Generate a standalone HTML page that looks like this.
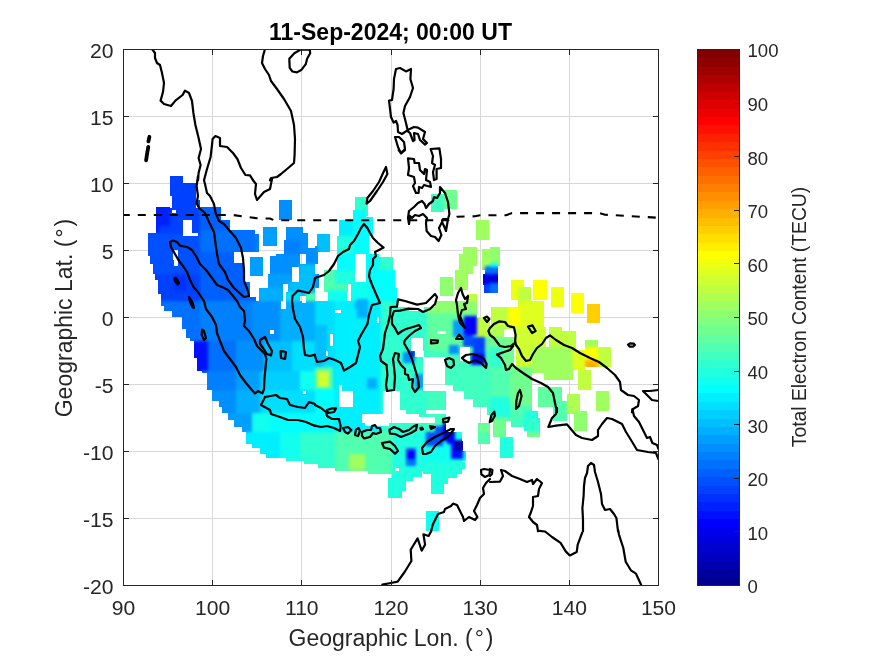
<!DOCTYPE html>
<html><head><meta charset="utf-8"><title>TEC map</title>
<style>html,body{margin:0;padding:0;background:#fff}body{width:875px;height:656px;overflow:hidden}</style></head>
<body>
<svg width="875" height="656" viewBox="0 0 875 656" style="display:block">
<rect width="875" height="656" fill="#fff"/>
<path d="M212.5 49.5V585.5M301.5 49.5V585.5M391.5 49.5V585.5M480.5 49.5V585.5M569.5 49.5V585.5M123.5 518.5H658.5M123.5 451.5H658.5M123.5 384.5H658.5M123.5 317.5H658.5M123.5 250.5H658.5M123.5 183.5H658.5M123.5 116.5H658.5" stroke="#d8d8d8" stroke-width="1" fill="none"/>
<defs>
<filter id="sm" x="123.5" y="49.5" width="535.0" height="536.0" filterUnits="userSpaceOnUse" color-interpolation-filters="sRGB"><feGaussianBlur in="SourceGraphic" stdDeviation="1.7" result="b"/><feComponentTransfer in="b" result="c"><feFuncA type="linear" slope="200" intercept="0"/></feComponentTransfer><feComposite in="c" in2="SourceAlpha" operator="in"/></filter>
<mask id="hm" maskUnits="userSpaceOnUse" x="0" y="0" width="875" height="656"><rect width="875" height="656" fill="#fff"/><g shape-rendering="crispEdges" fill="#000">
<rect x="172" y="210" width="4" height="3"/>
<rect x="183" y="220" width="9" height="16"/>
<rect x="192" y="233" width="6" height="3"/>
<rect x="173" y="250" width="5" height="10"/>
<rect x="174" y="260" width="4" height="6"/>
<rect x="300" y="254" width="6" height="10"/>
<rect x="292" y="267" width="7" height="9"/>
<rect x="283" y="284" width="5" height="8"/>
<rect x="281" y="301" width="5" height="8"/>
<rect x="302" y="301" width="4" height="2"/>
<rect x="270" y="330" width="4" height="4"/>
<rect x="303" y="391" width="3" height="3"/>
<rect x="398" y="301" width="37" height="6"/>
<rect x="409" y="307" width="15" height="4"/>
<rect x="411" y="338" width="12" height="13"/>
<rect x="415" y="351" width="9" height="6"/>
<rect x="423" y="357" width="22" height="28"/>
<rect x="423" y="385" width="30" height="6"/>
<rect x="446" y="391" width="18" height="41"/>
<rect x="464" y="399" width="9" height="33"/>
<rect x="473" y="407" width="5" height="25"/>
<rect x="478" y="407" width="9" height="16"/>
<rect x="487" y="415" width="3" height="8"/>
<rect x="383" y="391" width="17" height="23"/>
<rect x="400" y="410" width="6" height="4"/>
<rect x="362" y="417" width="73" height="6"/>
<rect x="362" y="414" width="57" height="3"/>
<rect x="426" y="410" width="20" height="4"/>
<rect x="365" y="423" width="24" height="3"/>
<rect x="339" y="385" width="3" height="6"/>
<rect x="339" y="391" width="14" height="16"/>
<rect x="477" y="301" width="14" height="17"/>
<rect x="335" y="310" width="6" height="3"/>
<rect x="330" y="334" width="3" height="12"/>
<rect x="377" y="317" width="2" height="6"/>
<rect x="326" y="351" width="2" height="5"/>
<rect x="437" y="331" width="9" height="3"/>
<rect x="460" y="347" width="10" height="14"/>
<rect x="504" y="329" width="11" height="8"/>
<rect x="395" y="468" width="4" height="3"/>
</g></mask>
<clipPath id="ax"><rect x="123.5" y="49.5" width="535.0" height="536.0"/></clipPath>
</defs>
<g mask="url(#hm)"><g filter="url(#sm)" shape-rendering="crispEdges">
<rect x="170" y="176" width="13" height="20" fill="#0040ff"/>
<rect x="172" y="183" width="24" height="25" fill="#0040ff"/>
<rect x="197" y="200" width="3" height="7" fill="#0050ff"/>
<rect x="156" y="207" width="14" height="27" fill="#0020ff"/>
<rect x="170" y="208" width="30" height="28" fill="#0040ff"/>
<rect x="159" y="226" width="24" height="16" fill="#0040ff"/>
<rect x="148" y="233" width="12" height="23" fill="#0050ff"/>
<rect x="160" y="234" width="40" height="24" fill="#0050ff"/>
<rect x="150" y="256" width="50" height="8" fill="#0050ff"/>
<rect x="153" y="264" width="47" height="10" fill="#0050ff"/>
<rect x="155" y="274" width="45" height="6" fill="#0040ff"/>
<rect x="158" y="280" width="42" height="14" fill="#0040ff"/>
<rect x="161" y="294" width="39" height="7" fill="#0040ff"/>
<rect x="174" y="274" width="12" height="16" fill="#0030ff"/>
<rect x="200" y="207" width="21" height="13" fill="#0060ff"/>
<rect x="200" y="220" width="30" height="10" fill="#0060ff"/>
<rect x="200" y="230" width="55" height="22" fill="#0070ff"/>
<rect x="255" y="234" width="4" height="18" fill="#0080ff"/>
<rect x="200" y="252" width="34" height="49" fill="#0060ff"/>
<rect x="234" y="263" width="10" height="38" fill="#0060ff"/>
<rect x="244" y="297" width="12" height="4" fill="#0060ff"/>
<rect x="244" y="282" width="6" height="16" fill="#0070ff"/>
<rect x="279" y="200" width="13" height="20" fill="#008fff"/>
<rect x="263" y="227" width="14" height="19" fill="#009fff"/>
<rect x="250" y="257" width="13" height="19" fill="#009fff"/>
<rect x="286" y="227" width="17" height="27" fill="#008fff"/>
<rect x="303" y="233" width="5" height="15" fill="#008fff"/>
<rect x="284" y="240" width="16" height="24" fill="#0080ff"/>
<rect x="276" y="254" width="24" height="20" fill="#008fff"/>
<rect x="270" y="256" width="6" height="28" fill="#008fff"/>
<rect x="268" y="274" width="24" height="16" fill="#009fff"/>
<rect x="259" y="288" width="24" height="13" fill="#00afff"/>
<rect x="300" y="248" width="15" height="16" fill="#008fff"/>
<rect x="306" y="250" width="9" height="16" fill="#008fff"/>
<rect x="299" y="264" width="16" height="18" fill="#00bfff"/>
<rect x="288" y="282" width="27" height="14" fill="#00bfff"/>
<rect x="286" y="292" width="14" height="9" fill="#00dfff"/>
<rect x="306" y="293" width="9" height="8" fill="#50ffaf"/>
<rect x="355" y="197" width="13" height="19" fill="#30ffcf"/>
<rect x="353" y="210" width="13" height="18" fill="#00ffff"/>
<rect x="339" y="220" width="14" height="18" fill="#00efff"/>
<rect x="353" y="217" width="20" height="19" fill="#00ffff"/>
<rect x="317" y="234" width="13" height="18" fill="#00bfff"/>
<rect x="337" y="236" width="16" height="18" fill="#20ffdf"/>
<rect x="353" y="236" width="16" height="18" fill="#00ffff"/>
<rect x="337" y="254" width="18" height="20" fill="#00ffff"/>
<rect x="366" y="254" width="13" height="20" fill="#00ffff"/>
<rect x="379" y="257" width="14" height="17" fill="#30ffcf"/>
<rect x="324" y="270" width="24" height="22" fill="#50ffaf"/>
<rect x="335" y="270" width="20" height="14" fill="#20ffdf"/>
<rect x="366" y="270" width="29" height="20" fill="#00ffff"/>
<rect x="351" y="282" width="18" height="19" fill="#10ffef"/>
<rect x="328" y="290" width="19" height="11" fill="#10ffef"/>
<rect x="369" y="288" width="28" height="13" fill="#00ffff"/>
<rect x="315" y="246" width="3" height="18" fill="#008fff"/>
<rect x="315" y="274" width="4" height="14" fill="#008fff"/>
<rect x="431" y="194" width="13" height="18" fill="#40ffbf"/>
<rect x="444" y="190" width="13" height="19" fill="#70ff8f"/>
<rect x="476" y="220" width="13" height="20" fill="#9fff60"/>
<rect x="463" y="247" width="14" height="19" fill="#9fff60"/>
<rect x="459" y="254" width="14" height="20" fill="#9fff60"/>
<rect x="455" y="270" width="13" height="20" fill="#9fff60"/>
<rect x="440" y="277" width="13" height="19" fill="#8fff70"/>
<rect x="482" y="249" width="8" height="21" fill="#9fff60"/>
<rect x="485" y="266" width="5" height="10" fill="#0070ff"/>
<rect x="483" y="274" width="7" height="11" fill="#0000df"/>
<rect x="484" y="284" width="6" height="9" fill="#0040ff"/>
<rect x="467" y="294" width="10" height="7" fill="#bfff40"/>
<rect x="490" y="247" width="10" height="19" fill="#8fff70"/>
<rect x="490" y="263" width="8" height="5" fill="#10ffef"/>
<rect x="490" y="267" width="8" height="9" fill="#0070ff"/>
<rect x="490" y="274" width="8" height="10" fill="#0000df"/>
<rect x="490" y="283" width="8" height="10" fill="#0070ff"/>
<rect x="511" y="280" width="13" height="20" fill="#efff10"/>
<rect x="518" y="287" width="13" height="14" fill="#bfff40"/>
<rect x="533" y="280" width="14" height="20" fill="#ffff00"/>
<rect x="551" y="287" width="13" height="14" fill="#efff10"/>
<rect x="571" y="293" width="13" height="8" fill="#ffff00"/>
<rect x="161" y="301" width="39" height="5" fill="#0070ff"/>
<rect x="200" y="301" width="52" height="5" fill="#0080ff"/>
<rect x="252" y="301" width="28" height="5" fill="#008fff"/>
<rect x="280" y="301" width="35" height="5" fill="#00afff"/>
<rect x="164" y="306" width="36" height="5" fill="#0070ff"/>
<rect x="200" y="306" width="52" height="5" fill="#0080ff"/>
<rect x="252" y="306" width="28" height="5" fill="#008fff"/>
<rect x="280" y="306" width="35" height="5" fill="#00afff"/>
<rect x="172" y="311" width="28" height="6" fill="#0070ff"/>
<rect x="200" y="311" width="52" height="6" fill="#0080ff"/>
<rect x="252" y="311" width="28" height="6" fill="#008fff"/>
<rect x="280" y="311" width="35" height="6" fill="#00afff"/>
<rect x="182" y="317" width="18" height="12" fill="#0070ff"/>
<rect x="200" y="317" width="52" height="12" fill="#0080ff"/>
<rect x="252" y="317" width="28" height="12" fill="#008fff"/>
<rect x="280" y="317" width="35" height="12" fill="#00afff"/>
<rect x="186" y="329" width="14" height="9" fill="#0070ff"/>
<rect x="200" y="329" width="52" height="9" fill="#0080ff"/>
<rect x="252" y="329" width="28" height="9" fill="#008fff"/>
<rect x="280" y="329" width="35" height="9" fill="#00afff"/>
<rect x="190" y="338" width="10" height="3" fill="#0070ff"/>
<rect x="200" y="338" width="52" height="3" fill="#0080ff"/>
<rect x="252" y="338" width="28" height="3" fill="#008fff"/>
<rect x="280" y="338" width="35" height="3" fill="#00afff"/>
<rect x="194" y="341" width="14" height="17" fill="#0010ff"/>
<rect x="208" y="341" width="28" height="17" fill="#0070ff"/>
<rect x="236" y="341" width="28" height="17" fill="#008fff"/>
<rect x="264" y="341" width="28" height="17" fill="#00bfff"/>
<rect x="292" y="341" width="23" height="17" fill="#00dfff"/>
<rect x="197" y="358" width="11" height="13" fill="#0010ff"/>
<rect x="208" y="358" width="28" height="13" fill="#0070ff"/>
<rect x="236" y="358" width="28" height="13" fill="#008fff"/>
<rect x="264" y="358" width="28" height="13" fill="#00bfff"/>
<rect x="292" y="358" width="23" height="13" fill="#00dfff"/>
<rect x="202" y="371" width="34" height="2" fill="#0080ff"/>
<rect x="236" y="371" width="24" height="2" fill="#009fff"/>
<rect x="260" y="371" width="40" height="2" fill="#00cfff"/>
<rect x="300" y="371" width="15" height="2" fill="#10ffef"/>
<rect x="207" y="373" width="29" height="17" fill="#0080ff"/>
<rect x="236" y="373" width="24" height="17" fill="#009fff"/>
<rect x="260" y="373" width="40" height="17" fill="#00cfff"/>
<rect x="300" y="373" width="15" height="17" fill="#10ffef"/>
<rect x="212" y="390" width="24" height="11" fill="#008fff"/>
<rect x="236" y="390" width="24" height="11" fill="#00afff"/>
<rect x="260" y="390" width="55" height="11" fill="#00dfff"/>
<rect x="219" y="401" width="17" height="6" fill="#008fff"/>
<rect x="236" y="401" width="24" height="6" fill="#00afff"/>
<rect x="260" y="401" width="55" height="6" fill="#00dfff"/>
<rect x="222" y="407" width="14" height="6" fill="#008fff"/>
<rect x="236" y="407" width="24" height="6" fill="#00afff"/>
<rect x="260" y="407" width="55" height="6" fill="#00dfff"/>
<rect x="228" y="413" width="24" height="7" fill="#009fff"/>
<rect x="252" y="413" width="18" height="7" fill="#10ffef"/>
<rect x="270" y="413" width="45" height="7" fill="#00ffff"/>
<rect x="234" y="420" width="18" height="7" fill="#009fff"/>
<rect x="252" y="420" width="18" height="7" fill="#10ffef"/>
<rect x="270" y="420" width="45" height="7" fill="#00ffff"/>
<rect x="242" y="427" width="10" height="5" fill="#009fff"/>
<rect x="252" y="427" width="18" height="5" fill="#10ffef"/>
<rect x="270" y="427" width="45" height="5" fill="#00ffff"/>
<rect x="315" y="301" width="20" height="131" fill="#00dfff"/>
<rect x="335" y="301" width="46" height="131" fill="#00efff"/>
<rect x="357" y="299" width="11" height="19" fill="#00afff"/>
<rect x="315" y="357" width="8" height="13" fill="#00bfff"/>
<rect x="381" y="301" width="46" height="131" fill="#30ffcf"/>
<rect x="427" y="301" width="63" height="50" fill="#60ff9f"/>
<rect x="427" y="351" width="63" height="81" fill="#40ffbf"/>
<rect x="315" y="325" width="12" height="36" fill="#00bfff"/>
<rect x="355" y="301" width="10" height="8" fill="#00afff"/>
<rect x="427" y="301" width="63" height="12" fill="#8fff70"/>
<rect x="315" y="367" width="18" height="24" fill="#50ffaf"/>
<rect x="317" y="371" width="12" height="16" fill="#cfff30"/>
<rect x="315" y="389" width="20" height="43" fill="#00ffff"/>
<rect x="367" y="378" width="10" height="11" fill="#00afff"/>
<rect x="403" y="352" width="12" height="11" fill="#008fff"/>
<rect x="410" y="350" width="5" height="7" fill="#0010ff"/>
<rect x="415" y="374" width="9" height="15" fill="#009fff"/>
<rect x="477" y="313" width="13" height="24" fill="#bfff40"/>
<rect x="453" y="320" width="14" height="17" fill="#009fff"/>
<rect x="464" y="316" width="13" height="19" fill="#0000ff"/>
<rect x="463" y="335" width="10" height="12" fill="#0050ff"/>
<rect x="473" y="337" width="12" height="20" fill="#0040ff"/>
<rect x="449" y="345" width="10" height="9" fill="#008fff"/>
<rect x="471" y="354" width="14" height="11" fill="#0000ff"/>
<rect x="443" y="423" width="12" height="9" fill="#0000bf"/>
<rect x="435" y="426" width="8" height="6" fill="#0050ff"/>
<rect x="478" y="424" width="12" height="8" fill="#70ff8f"/>
<rect x="518" y="301" width="26" height="26" fill="#dfff20"/>
<rect x="491" y="307" width="29" height="20" fill="#bfff40"/>
<rect x="508" y="307" width="12" height="20" fill="#ffff00"/>
<rect x="551" y="301" width="13" height="6" fill="#efff10"/>
<rect x="571" y="301" width="13" height="12" fill="#ffff00"/>
<rect x="587" y="304" width="13" height="19" fill="#ffcf00"/>
<rect x="490" y="327" width="26" height="20" fill="#afff50"/>
<rect x="516" y="327" width="30" height="40" fill="#cfff30"/>
<rect x="549" y="327" width="13" height="20" fill="#bfff40"/>
<rect x="562" y="331" width="14" height="20" fill="#bfff40"/>
<rect x="585" y="340" width="13" height="9" fill="#9fff60"/>
<rect x="585" y="347" width="13" height="14" fill="#ffff00"/>
<rect x="585" y="360" width="13" height="7" fill="#ffaf00"/>
<rect x="598" y="347" width="13" height="20" fill="#bfff40"/>
<rect x="571" y="350" width="14" height="20" fill="#dfff20"/>
<rect x="532" y="347" width="40" height="26" fill="#9fff60"/>
<rect x="544" y="361" width="29" height="19" fill="#9fff60"/>
<rect x="578" y="370" width="13" height="20" fill="#bfff40"/>
<rect x="490" y="337" width="24" height="30" fill="#70ff8f"/>
<rect x="490" y="347" width="12" height="34" fill="#30ffcf"/>
<rect x="490" y="367" width="42" height="54" fill="#50ffaf"/>
<rect x="490" y="397" width="20" height="20" fill="#20ffdf"/>
<rect x="510" y="367" width="22" height="38" fill="#70ff8f"/>
<rect x="538" y="387" width="24" height="20" fill="#60ff9f"/>
<rect x="553" y="401" width="14" height="20" fill="#50ffaf"/>
<rect x="567" y="394" width="13" height="20" fill="#afff50"/>
<rect x="596" y="391" width="13" height="20" fill="#9fff60"/>
<rect x="574" y="411" width="13" height="20" fill="#8fff70"/>
<rect x="524" y="411" width="14" height="20" fill="#20ffdf"/>
<rect x="527" y="418" width="13" height="14" fill="#30ffcf"/>
<rect x="511" y="417" width="13" height="10" fill="#40ffbf"/>
<rect x="493" y="418" width="13" height="14" fill="#70ff8f"/>
<rect x="246" y="432" width="34" height="12" fill="#00efff"/>
<rect x="280" y="432" width="20" height="12" fill="#10ffef"/>
<rect x="300" y="432" width="15" height="12" fill="#30ffcf"/>
<rect x="252" y="444" width="28" height="4" fill="#00efff"/>
<rect x="280" y="444" width="20" height="4" fill="#10ffef"/>
<rect x="300" y="444" width="15" height="4" fill="#30ffcf"/>
<rect x="260" y="448" width="20" height="6" fill="#00efff"/>
<rect x="280" y="448" width="20" height="6" fill="#10ffef"/>
<rect x="300" y="448" width="15" height="6" fill="#30ffcf"/>
<rect x="266" y="454" width="14" height="4" fill="#00efff"/>
<rect x="280" y="454" width="20" height="4" fill="#10ffef"/>
<rect x="300" y="454" width="15" height="4" fill="#30ffcf"/>
<rect x="286" y="458" width="29" height="3" fill="#20ffdf"/>
<rect x="304" y="461" width="11" height="3" fill="#30ffcf"/>
<rect x="315" y="432" width="3" height="32" fill="#30ffcf"/>
<rect x="318" y="432" width="17" height="36" fill="#30ffcf"/>
<rect x="335" y="432" width="33" height="39" fill="#50ffaf"/>
<rect x="368" y="432" width="24" height="42" fill="#50ffaf"/>
<rect x="392" y="432" width="31" height="39" fill="#20ffdf"/>
<rect x="423" y="432" width="39" height="30" fill="#10ffef"/>
<rect x="462" y="451" width="4" height="10" fill="#10ffef"/>
<rect x="349" y="454" width="16" height="16" fill="#9fff60"/>
<rect x="388" y="478" width="14" height="20" fill="#20ffdf"/>
<rect x="392" y="471" width="21" height="10" fill="#20ffdf"/>
<rect x="402" y="481" width="4" height="10" fill="#20ffdf"/>
<rect x="413" y="471" width="9" height="6" fill="#20ffdf"/>
<rect x="423" y="462" width="42" height="7" fill="#20ffdf"/>
<rect x="423" y="469" width="39" height="5" fill="#20ffdf"/>
<rect x="431" y="474" width="26" height="4" fill="#20ffdf"/>
<rect x="431" y="478" width="17" height="6" fill="#20ffdf"/>
<rect x="431" y="484" width="13" height="10" fill="#20ffdf"/>
<rect x="406" y="448" width="10" height="18" fill="#0070ff"/>
<rect x="407" y="450" width="8" height="9" fill="#0000ff"/>
<rect x="426" y="432" width="17" height="14" fill="#0050ff"/>
<rect x="443" y="432" width="12" height="9" fill="#0000df"/>
<rect x="447" y="436" width="8" height="8" fill="#0000ff"/>
<rect x="451" y="441" width="12" height="18" fill="#0010ff"/>
<rect x="455" y="440" width="7" height="11" fill="#00009f"/>
<rect x="426" y="511" width="13" height="20" fill="#10ffef"/>
<rect x="478" y="432" width="12" height="12" fill="#50ffaf"/>
<rect x="493" y="432" width="13" height="5" fill="#70ff8f"/>
<rect x="500" y="437" width="13" height="21" fill="#20ffdf"/>
<rect x="527" y="432" width="13" height="5" fill="#70ff8f"/>
</g></g>
<g clip-path="url(#ax)">
<path d="M152.0 49.0L155.0 53.0L155.0 58.0L157.0 63.0L160.0 65.0L162.0 73.0L164.0 83.0L163.0 92.0L160.6 100.6L164.0 104.0L171.0 106.0L175.4 100.6L182.6 95.0L185.0 90.6L189.0 93.0L192.0 101.0L193.4 113.0L195.4 125.0L198.6 138.0L201.0 149.0L198.6 158.0L200.6 165.0L198.6 173.0L198.0 180.2" fill="none" stroke="#000" stroke-width="2.2" stroke-linejoin="round" stroke-linecap="round"/>
<path d="M204.0 180.2L207.0 169.0L210.6 157.0L212.0 145.0L212.6 139.0L215.4 136.0L220.0 138.0L220.0 146.0L227.0 147.0L233.0 153.0L237.4 159.0L241.0 168.0L245.4 175.0L250.0 175.4L253.0 180.2" fill="none" stroke="#000" stroke-width="2.2" stroke-linejoin="round" stroke-linecap="round"/>
<path d="M265.0 49.0L263.0 56.0L262.0 63.0L265.0 69.0L269.0 75.0L271.0 81.0L277.0 89.0L284.0 99.0L291.0 111.0L294.0 125.0L295.0 139.0L294.6 155.0L294.0 163.0L287.0 169.0L281.0 174.0L277.0 177.0L271.0 178.0L270.0 180.2" fill="none" stroke="#000" stroke-width="2.2" stroke-linejoin="round" stroke-linecap="round"/>
<path d="M300.7 49.6L309.8 49.6L310.2 53.2L307.1 58.7L305.8 64.2L301.6 69.7L297 72.4L292.4 71.5L289.7 67.9L289.3 58.7L294.3 53.2Z" fill="none" stroke="#000" stroke-width="2.2" stroke-linejoin="round" stroke-linecap="round"/>
<path d="M396.0 69.0L400.0 68.0L406.0 71.4L411.0 69.0L410.4 79.0L413.0 88.0L410.0 97.0L405.0 106.0L403.4 113.0L406.0 123.0L407.6 130.0L414.0 127.0L418.0 127.6L425.0 132.0L423.0 139.0L427.0 143.0L425.0 144.6L420.0 140.0L418.0 134.0L414.0 133.0L414.6 140.0L413.0 141.0L410.0 133.0L407.0 130.6L402.0 134.0L398.0 132.0L397.6 125.0L396.0 121.0L393.6 122.6L391.0 117.0L389.0 100.6L392.0 100.0L393.6 89.0L394.0 79.0Z" fill="none" stroke="#000" stroke-width="2.2" stroke-linejoin="round" stroke-linecap="round"/>
<path d="M395.0 137.0L399.0 137.0L404.0 142.0L405.0 149.0L401.0 153.4L398.0 147.0Z" fill="none" stroke="#000" stroke-width="2.2" stroke-linejoin="round" stroke-linecap="round"/>
<path d="M198.0 180.2L198.0 176.0L196.6 186.0L198.0 196.0L196.6 203.0L199.0 208.0L205.0 213.0L209.0 222.0L214.0 232.0L215.6 244.0L217.0 254.0L219.0 264.0L225.0 272.0L228.0 280.0L234.0 288.0L244.0 297.0L249.0 296.0L247.6 290.0L244.0 281.0L244.0 270.0L243.0 258.0L241.0 248.0L236.0 238.0L229.0 230.0L224.0 224.0L219.0 221.0L215.6 213.0L214.0 204.0L210.0 196.0L207.0 193.0L205.0 184.0L204.0 180.2" fill="none" stroke="#000" stroke-width="2.2" stroke-linejoin="round" stroke-linecap="round"/>
<path d="M253.0 180.2L256.0 184.0L255.0 194.0L257.0 200.0L264.0 192.0L270.0 189.0L272.0 179.0L270.0 180.2" fill="none" stroke="#000" stroke-width="2.2" stroke-linejoin="round" stroke-linecap="round"/>
<path d="M170.0 242.0L173.0 240.4L177.0 242.0L180.0 245.6L187.0 247.0L192.0 250.0L196.0 256.0L200.0 264.0L206.0 270.0L212.0 278.0L217.0 285.0L222.0 287.0L228.0 290.0L233.0 296.0L237.0 301.2" fill="none" stroke="#000" stroke-width="2.2" stroke-linejoin="round" stroke-linecap="round"/>
<path d="M170.0 242.0L171.0 247.0L175.0 254.0L179.0 261.0L183.0 266.0L187.0 272.0L190.0 280.0L193.6 287.0L198.0 292.0L202.0 298.0L204.0 301.2" fill="none" stroke="#000" stroke-width="2.2" stroke-linejoin="round" stroke-linecap="round"/>
<path d="M174.4 278.4L176.0 278.0L179.0 283.0L177.6 284.4L175.0 281.0Z" fill="none" stroke="#000" stroke-width="2.2" stroke-linejoin="round" stroke-linecap="round"/>
<path d="M204.0 301.0L206.0 309.0L212.0 317.0L216.0 325.0L217.0 333.0L220.0 341.0L224.0 351.0L230.0 359.0L236.0 367.0L240.0 375.0L246.0 383.0L251.0 389.0L255.0 393.4L258.0 391.0L262.4 393.4L264.0 389.0L264.4 379.0L265.6 367.0L266.4 359.0L265.0 354.0L260.0 349.0L257.0 346.0L254.0 339.0L249.0 331.0L244.0 326.0L245.0 320.0L244.0 311.0L240.0 307.0L237.0 301.0" fill="none" stroke="#000" stroke-width="2.2" stroke-linejoin="round" stroke-linecap="round"/>
<path d="M260.0 340.0L265.0 337.0L268.0 344.0L272.0 351.0L271.0 355.4L267.0 354.0L263.0 348.0L260.0 344.0Z" fill="none" stroke="#000" stroke-width="2.2" stroke-linejoin="round" stroke-linecap="round"/>
<path d="M280.6 351.0L286.0 352.0L285.0 359.0L281.0 358.0Z" fill="none" stroke="#000" stroke-width="2.2" stroke-linejoin="round" stroke-linecap="round"/>
<path d="M202.0 329.6L204.0 331.0L206.0 338.0L204.0 340.0L201.6 335.0Z" fill="none" stroke="#000" stroke-width="2.2" stroke-linejoin="round" stroke-linecap="round"/>
<path d="M189.0 297.0L192.4 302.0L194.0 308.0L192.4 307.0L190.0 302.0Z" fill="none" stroke="#000" stroke-width="2.2" stroke-linejoin="round" stroke-linecap="round"/>
<path d="M292.0 301.0L293.0 309.0L295.0 319.0L300.0 327.0L303.0 337.0L304.0 349.0L305.0 355.0L310.0 356.0L315.0 354.6" fill="none" stroke="#000" stroke-width="2.2" stroke-linejoin="round" stroke-linecap="round"/>
<path d="M265.0 397.0L261.0 405.0L270.0 410.0L271.0 414.0L280.0 417.0L288.0 420.0L298.0 420.0L306.0 422.0L315.0 426.0" fill="none" stroke="#000" stroke-width="2.2" stroke-linejoin="round" stroke-linecap="round"/>
<path d="M265.0 397.0L276.0 395.0L280.0 398.0L287.0 399.0L290.0 405.0L298.0 407.0L305.0 408.0L309.0 402.0L315.0 404.0" fill="none" stroke="#000" stroke-width="2.2" stroke-linejoin="round" stroke-linecap="round"/>
<path d="M386.0 167.0L387.4 174.0L383.0 182.0L377.0 191.0L370.0 201.0L366.6 203.6L367.4 198.0L373.0 191.0L379.0 182.0L384.0 171.0Z" fill="none" stroke="#000" stroke-width="2.2" stroke-linejoin="round" stroke-linecap="round"/>
<path d="M408.0 158.4L414.0 159.0L414.6 163.0L419.0 163.0L420.0 170.0L424.0 174.0L425.0 169.0L427.0 170.0L426.0 180.0L430.0 182.0L431.0 187.0L424.0 185.0L422.0 188.0L419.0 187.0L418.6 193.0L416.0 193.0L413.0 186.0L415.0 183.0L414.0 177.0L408.0 175.0L409.0 168.0Z" fill="none" stroke="#000" stroke-width="2.2" stroke-linejoin="round" stroke-linecap="round"/>
<path d="M430.6 149.0L439.4 148.4L441.0 159.0L441.0 168.0L436.6 169.0L436.6 179.0L434.0 180.0L433.0 172.0L435.0 165.0L432.0 163.0L433.0 156.0Z" fill="none" stroke="#000" stroke-width="2.2" stroke-linejoin="round" stroke-linecap="round"/>
<path d="M398.6 150.0L401.0 153.0L405.0 150.0" fill="none" stroke="#000" stroke-width="2.2" stroke-linejoin="round" stroke-linecap="round"/>
<path d="M440.0 187.0L445.0 193.0L448.0 202.0L449.4 214.0L448.0 219.0L446.0 231.0L444.0 226.0L442.0 222.0L439.0 228.0L441.4 235.0L438.6 241.0L435.0 237.0L431.0 236.0L426.6 231.0L426.0 223.0L427.0 218.0L423.0 214.0L419.0 216.0L415.0 215.0L412.0 218.0L410.0 216.0L409.0 224.0L408.0 218.0L409.0 211.0L414.0 207.0L418.0 203.0L422.0 201.0L424.6 204.0L426.0 208.0L429.0 204.0L433.0 201.0L434.0 197.0L437.0 198.0L440.0 193.0Z" fill="none" stroke="#000" stroke-width="2.2" stroke-linejoin="round" stroke-linecap="round"/>
<path d="M442.0 222.0L443.0 219.0L448.0 219.0" fill="none" stroke="#000" stroke-width="2.2" stroke-linejoin="round" stroke-linecap="round"/>
<path d="M315.0 278.0L324.0 275.0L329.0 271.0L334.0 264.0L338.0 256.0L343.0 252.0L349.0 249.0L350.0 245.0L354.0 241.0L358.0 234.0L361.0 228.0L364.0 224.0L367.4 228.0L370.0 233.0L373.0 238.0L378.0 243.0L383.6 247.6L379.0 250.0L375.0 252.0L376.0 256.0L373.0 259.0L373.0 265.0L370.0 270.0L369.0 276.0L370.6 281.2" fill="none" stroke="#000" stroke-width="2.2" stroke-linejoin="round" stroke-linecap="round"/>
<path d="M370.6 281.0L373.0 287.0L376.0 294.0L380.0 303.0L372.0 305.0L369.0 315.0L367.4 324.0L361.0 335.0L358.0 341.0L360.0 347.0L358.0 355.0L356.0 363.0L350.0 367.0L344.0 370.6L341.0 363.0L335.0 360.0L329.0 358.0L324.0 361.0L317.0 362.0L315.0 356.0" fill="none" stroke="#000" stroke-width="2.2" stroke-linejoin="round" stroke-linecap="round"/>
<path d="M398.0 299.4L405.0 301.0L417.0 304.6L426.0 303.0L432.0 297.0L435.0 294.0L437.0 297.0L435.0 304.0L430.0 309.0L423.0 312.0L418.0 309.0L409.0 308.6L400.0 310.6L394.0 311.0L392.0 317.0L392.0 324.0L395.0 328.0L398.0 334.0L402.0 331.0L406.0 329.0L413.0 327.0L419.0 325.0L421.0 328.0L415.0 331.0L410.0 335.0L405.0 340.0L404.0 343.0L408.0 350.0L412.0 359.0L415.0 369.0L418.0 379.0L419.0 387.0L415.0 392.0L412.0 387.0L413.0 379.0L409.0 380.0L408.0 375.0L405.0 374.0L405.0 369.0L401.0 365.0L398.0 360.0L399.0 354.0L395.0 353.0L393.0 359.0L394.0 367.0L395.0 377.0L394.0 390.0L387.0 391.0L386.0 385.0L387.4 375.0L386.6 365.0L381.0 361.0L380.0 356.0L383.0 349.0L384.0 341.0L385.0 333.0L388.0 324.0L390.0 315.0L390.6 307.0L397.0 306.6Z" fill="none" stroke="#000" stroke-width="2.2" stroke-linejoin="round" stroke-linecap="round"/>
<path d="M461.0 288.0L462.6 294.0L465.0 299.0L468.0 296.0L467.0 303.0L464.0 304.0L466.0 309.0L462.0 310.0L460.0 316.0L463.0 324.0L465.0 328.0L460.0 323.0L458.0 315.0L457.0 305.0L456.0 300.0L458.0 293.0Z" fill="none" stroke="#000" stroke-width="2.2" stroke-linejoin="round" stroke-linecap="round"/>
<path d="M456.0 339.0L459.0 334.6L463.0 339.0Z" fill="none" stroke="#000" stroke-width="2.2" stroke-linejoin="round" stroke-linecap="round"/>
<path d="M431.0 340.0L438.0 340.6L437.4 343.0L431.0 343.4Z" fill="none" stroke="#000" stroke-width="2.2" stroke-linejoin="round" stroke-linecap="round"/>
<path d="M445.0 360.0L449.0 358.0L453.4 360.0L454.0 365.0L451.0 368.0L447.0 366.0Z" fill="none" stroke="#000" stroke-width="2.2" stroke-linejoin="round" stroke-linecap="round"/>
<path d="M462.0 358.0L466.0 355.0L473.0 354.0L479.0 356.0L484.0 359.0L486.6 364.0L486.0 368.0L481.0 363.0L475.0 360.0L469.0 363.0L464.0 360.0Z" fill="none" stroke="#000" stroke-width="2.2" stroke-linejoin="round" stroke-linecap="round"/>
<path d="M484.0 318.0L487.0 316.6L489.4 319.0L487.0 322.0Z" fill="none" stroke="#000" stroke-width="2.2" stroke-linejoin="round" stroke-linecap="round"/>
<path d="M490.0 328.0L494.0 324.0L499.0 321.4L505.0 322.0L508.0 326.0L514.0 327.4L515.6 335.0L515.0 343.0L511.0 346.0L505.0 347.0L500.0 346.0L497.0 342.0L494.0 338.0L490.0 335.0L488.4 331.0Z" fill="none" stroke="#000" stroke-width="2.2" stroke-linejoin="round" stroke-linecap="round"/>
<path d="M515.0 341.0L516.0 345.0L519.0 349.0L522.0 356.0L526.0 361.0L530.0 360.0L533.0 354.0L537.0 348.0L542.0 344.0L546.0 338.0L550.0 335.4L556.0 340.0L564.0 345.0L572.0 348.0L580.0 353.0L590.0 358.0L599.0 362.0L607.0 368.0L615.0 375.0L620.0 382.0L621.0 390.0L628.0 395.0L634.0 396.0L639.0 400.0L638.0 406.0L633.0 409.0L632.0 412.2" fill="none" stroke="#000" stroke-width="2.2" stroke-linejoin="round" stroke-linecap="round"/>
<path d="M513.0 346.0L510.0 350.0L504.0 352.0L497.0 354.6L501.0 358.0L505.0 365.0L506.0 370.0L509.0 369.0L512.0 364.0L516.0 368.0L523.0 373.0L532.0 379.0L541.0 383.0L548.0 387.0L553.0 393.0L555.0 403.0L557.0 412.2" fill="none" stroke="#000" stroke-width="2.2" stroke-linejoin="round" stroke-linecap="round"/>
<path d="M528.0 326.6L532.4 325.4L535.6 331.0L532.0 333.0Z" fill="none" stroke="#000" stroke-width="2.2" stroke-linejoin="round" stroke-linecap="round"/>
<path d="M628.0 344.6L630.0 343.4L633.6 343.6L635.0 345.0L633.0 346.6L629.6 346.6Z" fill="none" stroke="#000" stroke-width="2.2" stroke-linejoin="round" stroke-linecap="round"/>
<path d="M520.0 390.0L521.6 396.0L519.0 406.0L516.0 409.0L516.4 401.0L518.0 393.0Z" fill="none" stroke="#000" stroke-width="2.2" stroke-linejoin="round" stroke-linecap="round"/>
<path d="M658.4 390.0L650.0 391.0L643.0 391.0L648.0 396.0L652.0 400.0L658.4 401.0" fill="none" stroke="#000" stroke-width="2.2" stroke-linejoin="round" stroke-linecap="round"/>
<path d="M557.0 412.2L557.0 408.0L556.0 414.0L552.0 418.0L548.4 427.0L556.0 425.6L567.0 424.4L570.0 428.0L576.0 435.0L582.0 438.0L592.0 440.0L598.0 436.0L598.0 430.0L602.0 424.0L607.0 418.0L612.0 419.0L622.0 424.0L626.0 432.0L631.0 440.0L637.0 450.0L648.0 452.0L656.0 453.0L658.4 459.0" fill="none" stroke="#000" stroke-width="2.2" stroke-linejoin="round" stroke-linecap="round"/>
<path d="M632.0 412.2L632.4 409.0L634.0 416.0L639.0 422.0L643.0 430.0L647.0 438.0L650.0 437.0L652.4 443.0L657.0 445.0L658.4 449.0" fill="none" stroke="#000" stroke-width="2.2" stroke-linejoin="round" stroke-linecap="round"/>
<path d="M490.0 482.0L500.0 481.6L503.0 476.0L501.0 470.0L505.0 471.0L512.0 476.0L520.0 479.0L527.0 482.0L532.0 480.0L533.0 484.0L537.0 479.0L542.0 483.0L539.0 489.0L538.0 496.0L533.0 497.0L533.0 506.0L531.0 512.0L529.0 517.0L533.0 522.0L537.0 525.0L538.0 531.2" fill="none" stroke="#000" stroke-width="2.2" stroke-linejoin="round" stroke-linecap="round"/>
<path d="M490.0 469.0L492.4 470.0L492.0 474.0L490.0 476.0" fill="none" stroke="#000" stroke-width="2.2" stroke-linejoin="round" stroke-linecap="round"/>
<path d="M583.0 531.2L583.0 520.0L582.4 508.0L583.6 496.0L584.0 486.0L585.0 478.0L587.0 473.0L588.0 466.0L591.0 463.0L594.0 465.0L595.0 472.0L598.0 482.0L601.0 494.0L602.0 504.0L605.0 510.0L610.0 509.0L614.0 514.0L616.4 518.0L618.0 531.2" fill="none" stroke="#000" stroke-width="2.2" stroke-linejoin="round" stroke-linecap="round"/>
<path d="M489.7 422L491.4 415.1L494.3 411.7L494.9 415.7L492 420.9Z" fill="none" stroke="#000" stroke-width="2.2" stroke-linejoin="round" stroke-linecap="round"/>
<path d="M315.0 405.0L321.0 408.0L326.0 412.0L327.0 416.0L332.0 419.0L339.0 419.0L340.6 426.0L340.0 431.0L334.0 428.0L327.0 426.0L321.0 427.0L315.0 425.6" fill="none" stroke="#000" stroke-width="2.2" stroke-linejoin="round" stroke-linecap="round"/>
<path d="M327.0 410.0L332.0 408.4L336.0 408.4L334.0 412.0L328.0 413.0Z" fill="none" stroke="#000" stroke-width="2.2" stroke-linejoin="round" stroke-linecap="round"/>
<path d="M343.0 428.0L348.0 427.0L351.4 430.0L348.0 433.6L345.0 432.0Z" fill="none" stroke="#000" stroke-width="2.2" stroke-linejoin="round" stroke-linecap="round"/>
<path d="M356.0 429.6L358.6 428.0L360.0 431.0L358.0 436.0L355.0 435.0Z" fill="none" stroke="#000" stroke-width="2.2" stroke-linejoin="round" stroke-linecap="round"/>
<path d="M362.0 432.0L367.0 430.0L371.0 430.0L372.0 426.0L375.0 425.0L377.0 428.0L380.0 428.0L381.0 432.0L376.0 434.0L373.0 433.0L370.0 437.0L364.0 438.4L362.0 436.0Z" fill="none" stroke="#000" stroke-width="2.2" stroke-linejoin="round" stroke-linecap="round"/>
<path d="M389.4 430.0L394.0 427.0L399.0 429.0L403.0 432.0L409.0 430.0L414.0 426.0L417.0 425.0L416.0 430.0L411.0 433.0L406.0 435.0L401.0 437.0L395.0 434.0L390.0 433.6Z" fill="none" stroke="#000" stroke-width="2.2" stroke-linejoin="round" stroke-linecap="round"/>
<path d="M430.0 426.0L435.0 427.0L431.0 429.0Z" fill="none" stroke="#000" stroke-width="2.2" stroke-linejoin="round" stroke-linecap="round"/>
<path d="M420.4 428.0L422.0 427.6L423.0 429.2L421.0 429.6Z" fill="none" stroke="#000" stroke-width="2.2" stroke-linejoin="round" stroke-linecap="round"/>
<path d="M382.0 443.0L390.0 441.6L395.0 446.0L398.0 451.0L395.0 453.6L390.0 449.0L384.0 447.6Z" fill="none" stroke="#000" stroke-width="2.2" stroke-linejoin="round" stroke-linecap="round"/>
<path d="M423.0 454.0L422.0 448.0L427.0 442.0L435.0 437.0L443.0 433.0L451.0 429.0L454.0 429.0L449.0 436.0L441.0 441.0L435.0 446.0L431.0 452.0L426.0 454.0Z" fill="none" stroke="#000" stroke-width="2.2" stroke-linejoin="round" stroke-linecap="round"/>
<path d="M443.0 419.0L449.4 417.6L448.0 421.6L443.4 422.4Z" fill="none" stroke="#000" stroke-width="2.2" stroke-linejoin="round" stroke-linecap="round"/>
<path d="M431.0 531.2L433.0 524.0L436.0 518.0L438.0 514.0L444.0 512.0L445.0 509.0L451.0 506.0L453.0 503.6L457.0 505.0L460.0 511.0L463.0 517.0L464.0 521.0L469.0 517.0L475.0 520.0L477.4 517.0L474.0 511.0L477.0 505.0L480.0 498.0L484.0 494.0L483.0 488.0L486.0 483.0L490.0 479.0" fill="none" stroke="#000" stroke-width="2.2" stroke-linejoin="round" stroke-linecap="round"/>
<path d="M481.0 470.0L484.0 469.0L490.0 470.0L489.4 475.0L485.0 477.0L481.4 474.4Z" fill="none" stroke="#000" stroke-width="2.2" stroke-linejoin="round" stroke-linecap="round"/>
<path d="M382.3 584.7L390.9 583.0L397.7 581.6L404.6 572.0L411.4 561.0L410.7 549.7L417.6 538.4L421.7 550.7L425.1 544.6L423.4 534.3L428.6 536.0L431.3 530.9" fill="none" stroke="#000" stroke-width="2.2" stroke-linejoin="round" stroke-linecap="round"/>
<path d="M539.0 530.9L545.1 531.5L552.0 537.0L560.6 542.9L565.7 551.4L569.8 555.5L576.7 552.1L577.7 544.6L582.2 532.6" fill="none" stroke="#000" stroke-width="2.2" stroke-linejoin="round" stroke-linecap="round"/>
<path d="M618.2 530.2L618.9 534.3L623.3 548.0L625.7 561.7L630.9 570.3L636.0 573.7L641.1 584.7" fill="none" stroke="#000" stroke-width="2.2" stroke-linejoin="round" stroke-linecap="round"/>
<path d="M315 278L313 287L309 293L298 290.5L292.5 296L292 301" fill="none" stroke="#000" stroke-width="2.2" stroke-linejoin="round" stroke-linecap="round"/>
<path d="M149.4 136.8L148.4 141.4" fill="none" stroke="#000" stroke-width="3.8" stroke-linejoin="round" stroke-linecap="round"/>
<path d="M148.3 146.8L147.2 153L146.1 160.3" fill="none" stroke="#000" stroke-width="3.8" stroke-linejoin="round" stroke-linecap="round"/>
<path d="M123.5 215L233 215L242 216.3L257 218.3L270 218.5L274 220.2L448 220.2L457 216.7L475 216.3L480 215.2L506 215.2L512 213.1L600 213.1L605 214.7L657.5 217.7" fill="none" stroke="#000" stroke-width="2.1" stroke-dasharray="8 8" stroke-dashoffset="1.7"/>
</g>
<path d="M212.5 585.5v-5.5M212.5 49.5v5.5M301.5 585.5v-5.5M301.5 49.5v5.5M391.5 585.5v-5.5M391.5 49.5v5.5M480.5 585.5v-5.5M480.5 49.5v5.5M569.5 585.5v-5.5M569.5 49.5v5.5M123.5 518.5h5.5M658.5 518.5h-5.5M123.5 451.5h5.5M658.5 451.5h-5.5M123.5 384.5h5.5M658.5 384.5h-5.5M123.5 317.5h5.5M658.5 317.5h-5.5M123.5 250.5h5.5M658.5 250.5h-5.5M123.5 183.5h5.5M658.5 183.5h-5.5M123.5 116.5h5.5M658.5 116.5h-5.5" stroke="#262626" stroke-width="1" fill="none"/>
<rect x="123.5" y="49.5" width="535.0" height="536.0" fill="none" stroke="#262626" stroke-width="1"/>
<g shape-rendering="crispEdges">
<rect x="697.5" y="577.12" width="42.0" height="8.88" fill="#00008f"/>
<rect x="697.5" y="568.75" width="42.0" height="8.88" fill="#00009f"/>
<rect x="697.5" y="560.38" width="42.0" height="8.88" fill="#0000af"/>
<rect x="697.5" y="552.00" width="42.0" height="8.88" fill="#0000bf"/>
<rect x="697.5" y="543.62" width="42.0" height="8.88" fill="#0000cf"/>
<rect x="697.5" y="535.25" width="42.0" height="8.88" fill="#0000df"/>
<rect x="697.5" y="526.88" width="42.0" height="8.88" fill="#0000ef"/>
<rect x="697.5" y="518.50" width="42.0" height="8.88" fill="#0000ff"/>
<rect x="697.5" y="510.12" width="42.0" height="8.88" fill="#0010ff"/>
<rect x="697.5" y="501.75" width="42.0" height="8.88" fill="#0020ff"/>
<rect x="697.5" y="493.38" width="42.0" height="8.88" fill="#0030ff"/>
<rect x="697.5" y="485.00" width="42.0" height="8.88" fill="#0040ff"/>
<rect x="697.5" y="476.62" width="42.0" height="8.88" fill="#0050ff"/>
<rect x="697.5" y="468.25" width="42.0" height="8.88" fill="#0060ff"/>
<rect x="697.5" y="459.88" width="42.0" height="8.88" fill="#0070ff"/>
<rect x="697.5" y="451.50" width="42.0" height="8.88" fill="#0080ff"/>
<rect x="697.5" y="443.12" width="42.0" height="8.88" fill="#008fff"/>
<rect x="697.5" y="434.75" width="42.0" height="8.88" fill="#009fff"/>
<rect x="697.5" y="426.38" width="42.0" height="8.88" fill="#00afff"/>
<rect x="697.5" y="418.00" width="42.0" height="8.88" fill="#00bfff"/>
<rect x="697.5" y="409.62" width="42.0" height="8.88" fill="#00cfff"/>
<rect x="697.5" y="401.25" width="42.0" height="8.88" fill="#00dfff"/>
<rect x="697.5" y="392.88" width="42.0" height="8.88" fill="#00efff"/>
<rect x="697.5" y="384.50" width="42.0" height="8.88" fill="#00ffff"/>
<rect x="697.5" y="376.12" width="42.0" height="8.88" fill="#10ffef"/>
<rect x="697.5" y="367.75" width="42.0" height="8.88" fill="#20ffdf"/>
<rect x="697.5" y="359.38" width="42.0" height="8.88" fill="#30ffcf"/>
<rect x="697.5" y="351.00" width="42.0" height="8.88" fill="#40ffbf"/>
<rect x="697.5" y="342.62" width="42.0" height="8.88" fill="#50ffaf"/>
<rect x="697.5" y="334.25" width="42.0" height="8.88" fill="#60ff9f"/>
<rect x="697.5" y="325.88" width="42.0" height="8.88" fill="#70ff8f"/>
<rect x="697.5" y="317.50" width="42.0" height="8.88" fill="#80ff80"/>
<rect x="697.5" y="309.12" width="42.0" height="8.88" fill="#8fff70"/>
<rect x="697.5" y="300.75" width="42.0" height="8.88" fill="#9fff60"/>
<rect x="697.5" y="292.38" width="42.0" height="8.88" fill="#afff50"/>
<rect x="697.5" y="284.00" width="42.0" height="8.88" fill="#bfff40"/>
<rect x="697.5" y="275.62" width="42.0" height="8.88" fill="#cfff30"/>
<rect x="697.5" y="267.25" width="42.0" height="8.88" fill="#dfff20"/>
<rect x="697.5" y="258.88" width="42.0" height="8.88" fill="#efff10"/>
<rect x="697.5" y="250.50" width="42.0" height="8.88" fill="#ffff00"/>
<rect x="697.5" y="242.12" width="42.0" height="8.88" fill="#ffef00"/>
<rect x="697.5" y="233.75" width="42.0" height="8.88" fill="#ffdf00"/>
<rect x="697.5" y="225.38" width="42.0" height="8.88" fill="#ffcf00"/>
<rect x="697.5" y="217.00" width="42.0" height="8.88" fill="#ffbf00"/>
<rect x="697.5" y="208.62" width="42.0" height="8.88" fill="#ffaf00"/>
<rect x="697.5" y="200.25" width="42.0" height="8.88" fill="#ff9f00"/>
<rect x="697.5" y="191.88" width="42.0" height="8.88" fill="#ff8f00"/>
<rect x="697.5" y="183.50" width="42.0" height="8.88" fill="#ff8000"/>
<rect x="697.5" y="175.12" width="42.0" height="8.88" fill="#ff7000"/>
<rect x="697.5" y="166.75" width="42.0" height="8.88" fill="#ff6000"/>
<rect x="697.5" y="158.38" width="42.0" height="8.88" fill="#ff5000"/>
<rect x="697.5" y="150.00" width="42.0" height="8.88" fill="#ff4000"/>
<rect x="697.5" y="141.62" width="42.0" height="8.88" fill="#ff3000"/>
<rect x="697.5" y="133.25" width="42.0" height="8.88" fill="#ff2000"/>
<rect x="697.5" y="124.88" width="42.0" height="8.88" fill="#ff1000"/>
<rect x="697.5" y="116.50" width="42.0" height="8.88" fill="#ff0000"/>
<rect x="697.5" y="108.12" width="42.0" height="8.88" fill="#ef0000"/>
<rect x="697.5" y="99.75" width="42.0" height="8.88" fill="#df0000"/>
<rect x="697.5" y="91.38" width="42.0" height="8.88" fill="#cf0000"/>
<rect x="697.5" y="83.00" width="42.0" height="8.88" fill="#bf0000"/>
<rect x="697.5" y="74.62" width="42.0" height="8.88" fill="#af0000"/>
<rect x="697.5" y="66.25" width="42.0" height="8.88" fill="#9f0000"/>
<rect x="697.5" y="57.88" width="42.0" height="8.88" fill="#8f0000"/>
<rect x="697.5" y="49.50" width="42.0" height="8.88" fill="#800000"/>
</g>
<path d="M739.5 531.5h-5.5M739.5 478.5h-5.5M739.5 424.5h-5.5M739.5 371.5h-5.5M739.5 317.5h-5.5M739.5 263.5h-5.5M739.5 210.5h-5.5M739.5 156.5h-5.5M739.5 103.5h-5.5" stroke="#262626" stroke-width="1" fill="none"/>
<rect x="697.5" y="49.5" width="42.0" height="536.0" fill="none" stroke="#262626" stroke-width="1"/>
<g font-family="Liberation Sans, Arial, sans-serif" fill="#262626" font-size="21.1">
<text x="123.5" y="615" text-anchor="middle">90</text>
<text x="212.7" y="615" text-anchor="middle">100</text>
<text x="301.8" y="615" text-anchor="middle">110</text>
<text x="391.0" y="615" text-anchor="middle">120</text>
<text x="480.2" y="615" text-anchor="middle">130</text>
<text x="569.3" y="615" text-anchor="middle">140</text>
<text x="658.5" y="615" text-anchor="middle">150</text>
<text x="113.5" y="594.1" text-anchor="end">-20</text>
<text x="113.5" y="527.1" text-anchor="end">-15</text>
<text x="113.5" y="460.1" text-anchor="end">-10</text>
<text x="113.5" y="393.1" text-anchor="end">-5</text>
<text x="113.5" y="326.1" text-anchor="end">0</text>
<text x="113.5" y="259.1" text-anchor="end">5</text>
<text x="113.5" y="192.1" text-anchor="end">10</text>
<text x="113.5" y="125.1" text-anchor="end">15</text>
<text x="113.5" y="58.1" text-anchor="end">20</text>
<text x="747.5" y="593.4" font-size="18.6">0</text>
<text x="747.5" y="539.8" font-size="18.6">10</text>
<text x="747.5" y="486.2" font-size="18.6">20</text>
<text x="747.5" y="432.6" font-size="18.6">30</text>
<text x="747.5" y="379.0" font-size="18.6">40</text>
<text x="747.5" y="325.4" font-size="18.6">50</text>
<text x="747.5" y="271.8" font-size="18.6">60</text>
<text x="747.5" y="218.2" font-size="18.6">70</text>
<text x="747.5" y="164.6" font-size="18.6">80</text>
<text x="747.5" y="111.0" font-size="18.6">90</text>
<text x="747.5" y="57.4" font-size="18.6">100</text>
</g>
<g font-family="Liberation Sans, Arial, sans-serif" fill="#262626">
<text x="390.5" y="40.3" text-anchor="middle" font-size="23" font-weight="bold" fill="#000">11-Sep-2024; 00:00 UT</text>
<text x="391" y="646" text-anchor="middle" font-size="23">Geographic Lon. (<tspan dx="2">°</tspan><tspan dx="2">)</tspan></text>
<text transform="translate(72,318) rotate(-90)" text-anchor="middle" font-size="23">Geographic Lat. (<tspan dx="2">°</tspan><tspan dx="2">)</tspan></text>
<text transform="translate(805.5,317) rotate(-90)" text-anchor="middle" font-size="19.3">Total Electron Content (TECU)</text>
</g>
</svg>
</body></html>
